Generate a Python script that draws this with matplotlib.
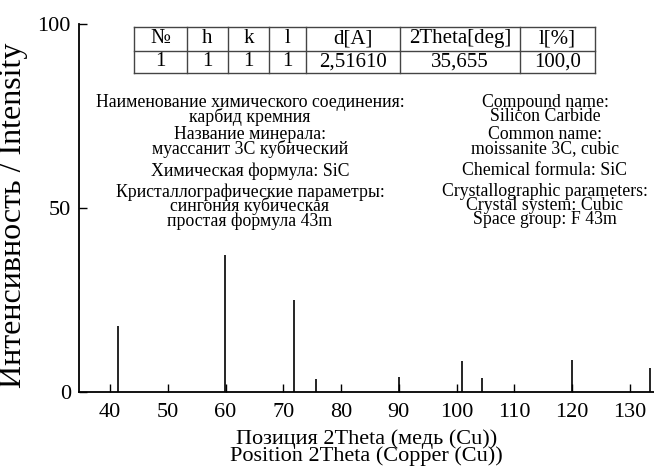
import matplotlib
matplotlib.use("Agg")
import matplotlib.pyplot as plt
from matplotlib.lines import Line2D

plt.rcParams['font.family'] = ['Liberation Serif', 'DejaVu Serif']

# ---- data ----
two_theta = [41.44, 59.95, 71.83, 75.59, 90.0, 100.86, 104.4, 120.0, 133.4]
intensity = [17.9, 37.2, 24.9, 3.4, 4.1, 8.3, 3.7, 8.6, 6.5]
x_ticks = [40, 50, 60, 70, 80, 90, 100, 110, 120, 130]
y_ticks = [0, 50, 100]

table_header = ["№", "h", "k", "l", "d[A]", "2Theta[deg]", "l[%]"]
table_row = ["1", "1", "1", "1", "2,51610", "35,655", "100,0"]

info_ru = [
    "Наименование химического соединения:\nкарбид кремния",
    "Название минерала:\nмуассанит 3С кубический",
    "Химическая формула: SiC",
    "Кристаллографические параметры:\nсингония кубическая\nпростая формула 43m",
]
info_en = [
    "Compound name:\nSilicon Carbide",
    "Common name:\nmoissanite 3C, cubic",
    "Chemical formula: SiC",
    "Crystallographic parameters:\nCrystal system: Cubic\nSpace group: F 43m",
]

xlabel = "Позиция 2Theta (медь (Cu))\nPosition 2Theta (Copper (Cu))"
ylabel = "Интенсивность / Intensity"

W, H = 654, 467
fig = plt.figure(figsize=(W / 100, H / 100), dpi=100)
ax = fig.add_axes([79.3 / W, 1 - 391.7 / H, (W - 79.3) / W, (391.7 - 24) / H])

ax.vlines(two_theta, 0, intensity, colors='black', linewidth=1.2)
ax.set_xlim(34.7, 134.15)
ax.set_ylim(0, 100)
ax.set_xticks(x_ticks)
ax.set_yticks(y_ticks)
ax.tick_params(direction='in', length=6, width=1.0, labelsize=16)
ax.tick_params(axis='x', pad=8)
ax.tick_params(axis='y', pad=6)
for s in ['top', 'right']:
    ax.spines[s].set_visible(False)
for s in ['left', 'bottom']:
    ax.spines[s].set_linewidth(1.3)

ax.set_xlabel(xlabel, fontsize=16, linespacing=0.8, labelpad=5.5)
ax.set_ylabel(ylabel, fontsize=23)
ax.yaxis.set_label_coords(-0.09, 0.48)


def fx(px):
    return px / W


def fy(py):
    return 1 - py / H


# ---- table ----
col_edges = [134, 187, 228, 269, 306, 400, 520, 595]
row_edges = [26.7, 50.7, 73.3]
for xe in col_edges:
    fig.add_artist(Line2D([fx(xe), fx(xe)], [fy(row_edges[0]), fy(row_edges[-1])],
                          color='#444444', linewidth=1.0))
for ye in row_edges:
    fig.add_artist(Line2D([fx(col_edges[0]), fx(col_edges[-1])], [fy(ye), fy(ye)],
                          color='#444444', linewidth=1.0))
for r, row in enumerate([table_header, table_row]):
    yc = (row_edges[r] + row_edges[r + 1]) / 2
    for c, txt in enumerate(row):
        xc = (col_edges[c] + col_edges[c + 1]) / 2
        fig.text(fx(xc), fy(yc), txt, ha='center', va='center', fontsize=15)

# ---- info text ----
block_top = [94, 126, 162, 183]
for blocks, xc in ((info_ru, 250), (info_en, 545)):
    for txt, y0 in zip(blocks, block_top):
        fig.text(fx(xc), fy(y0), txt, ha='center', va='top', fontsize=12.8,
                 linespacing=0.77)

fig.savefig("out.png", dpi=100)
